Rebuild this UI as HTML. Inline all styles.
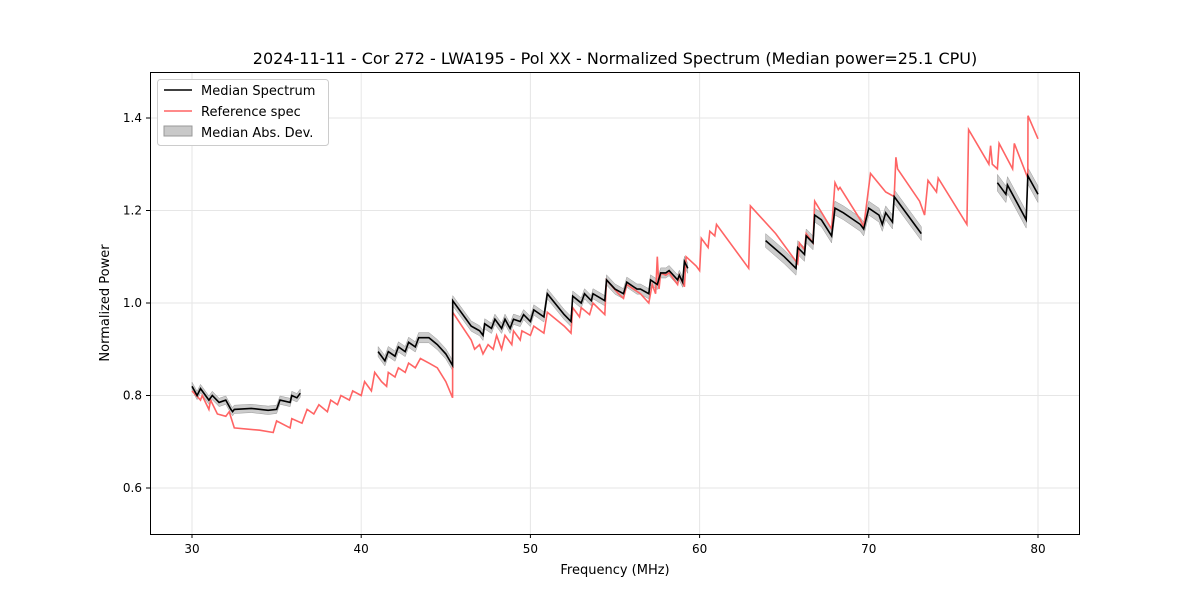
<!DOCTYPE html>
<html><head><meta charset="utf-8"><style>
body{margin:0;background:#fff;font-family:"Liberation Sans","DejaVu Sans",sans-serif}
svg text{font-family:"DejaVu Sans","Liberation Sans",sans-serif}
</style></head><body>
<svg id="c" width="1200" height="600" xmlns="http://www.w3.org/2000/svg">
<rect width="1200" height="600" fill="#fff"/>
<text x="615" y="64" text-anchor="middle" font-size="16">2024-11-11 - Cor 272 - LWA195 - Pol XX - Normalized Spectrum (Median power=25.1 CPU)</text>
<g id="grid"></g><g id="band"></g><g id="lines"></g><g id="axes"></g>
<text x="615" y="574" text-anchor="middle" font-size="13">Frequency (MHz)</text>
<text transform="translate(109,303) rotate(-90)" text-anchor="middle" font-size="13">Normalized Power</text>
<g>
<rect x="157.5" y="79.5" width="171" height="66" rx="3" fill="#fff" stroke="#ccc"/>
<line x1="164" y1="90" x2="192" y2="90" stroke="#000" stroke-width="1.5"/>
<text x="201" y="95" font-size="13">Median Spectrum</text>
<line x1="164" y1="111" x2="192" y2="111" stroke="#ff6464" stroke-width="1.5"/>
<text x="201" y="116" font-size="13">Reference spec</text>
<rect x="164" y="126" width="28" height="10" fill="#bbb" fill-opacity="0.8" stroke="#999"/>
<text x="201" y="137" font-size="13">Median Abs. Dev.</text>
</g>
</svg>
<script>
const xTicks=[30,40,50,60,70,80];
const yTicks=[0.6,0.8,1.0,1.2,1.4];
const yTickLabels=["0.6","0.8","1.0","1.2","1.4"];
const refFreq=[30,30.5,30.6,31,31.1,31.5,32,32.2,32.5,34,34.8,35,35.8,35.9,36.5,36.8,37.2,37.5,38,38.2,38.6,38.8,39.3,39.5,40,40.2,40.6,40.8,41.2,41.5,41.6,42,42.2,42.6,42.8,43.2,43.5,44,44.5,45,45.4,45.41,46.5,46.7,47,47.2,47.5,47.8,48,48.3,48.5,48.9,49,49.4,49.5,50,50.2,50.8,51,52,52.4,52.5,52.9,53,53.5,53.7,54.4,54.5,55.2,55.5,55.7,56.5,57,57.2,57.4,57.5,57.6,57.7,58,58.2,58.7,58.8,59.1,59.2,59.8,60,60.1,60.5,60.6,60.9,61,62.9,63,64.5,65.8,65.9,66.2,66.3,66.7,66.8,67.8,68,68.2,68.3,69.5,69.7,70.1,71,71.5,71.6,71.7,73,73.3,73.5,74,74.1,75.8,75.9,77.1,77.2,77.3,77.6,77.7,78.5,78.6,79.4,79.41,80];
const refVal=[0.81,0.79,0.80,0.77,0.79,0.76,0.755,0.765,0.73,0.725,0.72,0.745,0.73,0.75,0.74,0.77,0.76,0.78,0.765,0.79,0.78,0.80,0.79,0.81,0.80,0.83,0.81,0.85,0.83,0.82,0.85,0.84,0.86,0.85,0.87,0.86,0.88,0.87,0.86,0.83,0.795,0.98,0.92,0.90,0.91,0.89,0.91,0.90,0.93,0.90,0.93,0.91,0.94,0.92,0.94,0.93,0.95,0.935,0.98,0.95,0.935,0.99,0.97,0.99,0.975,1.0,0.975,1.05,1.02,1.01,1.04,1.02,1.0,1.04,1.02,1.10,1.03,1.065,1.06,1.065,1.04,1.06,1.035,1.10,1.08,1.07,1.14,1.12,1.155,1.145,1.17,1.075,1.21,1.15,1.085,1.13,1.115,1.15,1.13,1.22,1.16,1.26,1.245,1.25,1.18,1.165,1.28,1.24,1.23,1.315,1.29,1.22,1.19,1.265,1.24,1.27,1.17,1.375,1.30,1.34,1.30,1.29,1.345,1.29,1.345,1.27,1.405,1.355];
const medFreq=[
[30,30.3,30.5,31,31.2,31.6,32,32.3,32.4,32.5,33.5,34.5,35,35.2,35.8,35.9,36.2,36.4],
[41,41.4,41.6,42,42.2,42.6,42.8,43.2,43.4,44,44.5,45,45.4,45.41,46.5,47,47.2,47.3,47.7,47.9,48.3,48.5,48.8,49,49.4,49.6,50,50.2,50.8,51,52,52.4,52.5,53,53.2,53.6,53.7,54.4,54.5,55,55.5,55.7,56.3,56.5,57,57.1,57.5,57.7,58,58.2,58.7,58.8,59,59.1,59.3],
[63.9,65,65.7,65.8,66.2,66.3,66.7,66.8,67.2,67.8,68,68.5,69.5,69.7,70,70.6,70.8,71,71.4,71.5,73.1],
[77.6,78.1,78.2,79.3,79.4,80]];
const medVal=[
[0.82,0.80,0.815,0.79,0.80,0.785,0.79,0.77,0.765,0.77,0.772,0.768,0.77,0.79,0.785,0.80,0.795,0.805],
[0.895,0.875,0.895,0.885,0.905,0.895,0.915,0.905,0.925,0.925,0.91,0.89,0.865,1.005,0.95,0.94,0.93,0.955,0.945,0.965,0.945,0.965,0.945,0.965,0.96,0.975,0.96,0.985,0.97,1.02,0.975,0.96,1.015,1.0,1.02,1.005,1.02,1.005,1.05,1.03,1.02,1.045,1.03,1.03,1.02,1.05,1.04,1.065,1.065,1.07,1.05,1.06,1.045,1.09,1.075],
[1.135,1.10,1.075,1.12,1.105,1.145,1.13,1.19,1.18,1.145,1.205,1.195,1.17,1.16,1.205,1.19,1.17,1.195,1.175,1.23,1.15],
[1.26,1.235,1.255,1.18,1.275,1.235]];
const madVal=[0.009,0.011,0.015,0.018];

const X=f=>192+(f-30)*16.92, Y=v=>118+(1.4-v)*462.5;
const NS="http://www.w3.org/2000/svg";
function mk(t,a,p){const e=document.createElementNS(NS,t);for(const k in a)e.setAttribute(k,a[k]);p.appendChild(e);return e;}
const grid=document.getElementById('grid'),axes=document.getElementById('axes'),band=document.getElementById('band'),lines=document.getElementById('lines');
mk('rect',{x:150.5,y:72.5,width:929,height:462,fill:'none',stroke:'#000','stroke-width':1},axes);
xTicks.forEach(t=>{
 const g=mk('line',{x1:X(t),x2:X(t),y1:72,y2:534,stroke:'#e6e6e6'},grid);
 
 mk('line',{x1:X(t),x2:X(t),y1:534,y2:538,stroke:'#000'},axes);
 const tx=mk('text',{x:X(t),y:553,'text-anchor':'middle','font-size':12},axes);tx.textContent=t;
 
});
yTicks.forEach((t,i)=>{
 const g=mk('line',{x1:150,x2:1080,y1:Y(t),y2:Y(t),stroke:'#e6e6e6'},grid);
 
 mk('line',{x1:146,x2:150,y1:Y(t),y2:Y(t),stroke:'#000'},axes);
 const tx=mk('text',{x:142,y:Y(t)+4,'text-anchor':'end','font-size':12},axes);tx.textContent=yTickLabels[i];
 
});
const rp=refFreq.map((f,i)=>X(f).toFixed(1)+','+Y(refVal[i]).toFixed(1)).join(' ');
const r=mk('polyline',{points:rp,fill:'none',stroke:'#ff6464','stroke-width':1.6},lines);

medFreq.forEach((fs,s)=>{
 const vs=medVal[s],m=madVal[s];
 const up=fs.map((f,i)=>X(f).toFixed(1)+','+Y(vs[i]+m).toFixed(1));
 const dn=fs.map((f,i)=>X(f).toFixed(1)+','+Y(vs[i]-m).toFixed(1)).reverse();
 const b=mk('polygon',{points:up.concat(dn).join(' '),fill:'#aaa','fill-opacity':0.6,stroke:'#999','stroke-width':0.5},band);
 
 const l=mk('polyline',{points:fs.map((f,i)=>X(f).toFixed(1)+','+Y(vs[i]).toFixed(1)).join(' '),fill:'none',stroke:'#000','stroke-width':1.6},lines);
 
});
</script>
</body></html>
